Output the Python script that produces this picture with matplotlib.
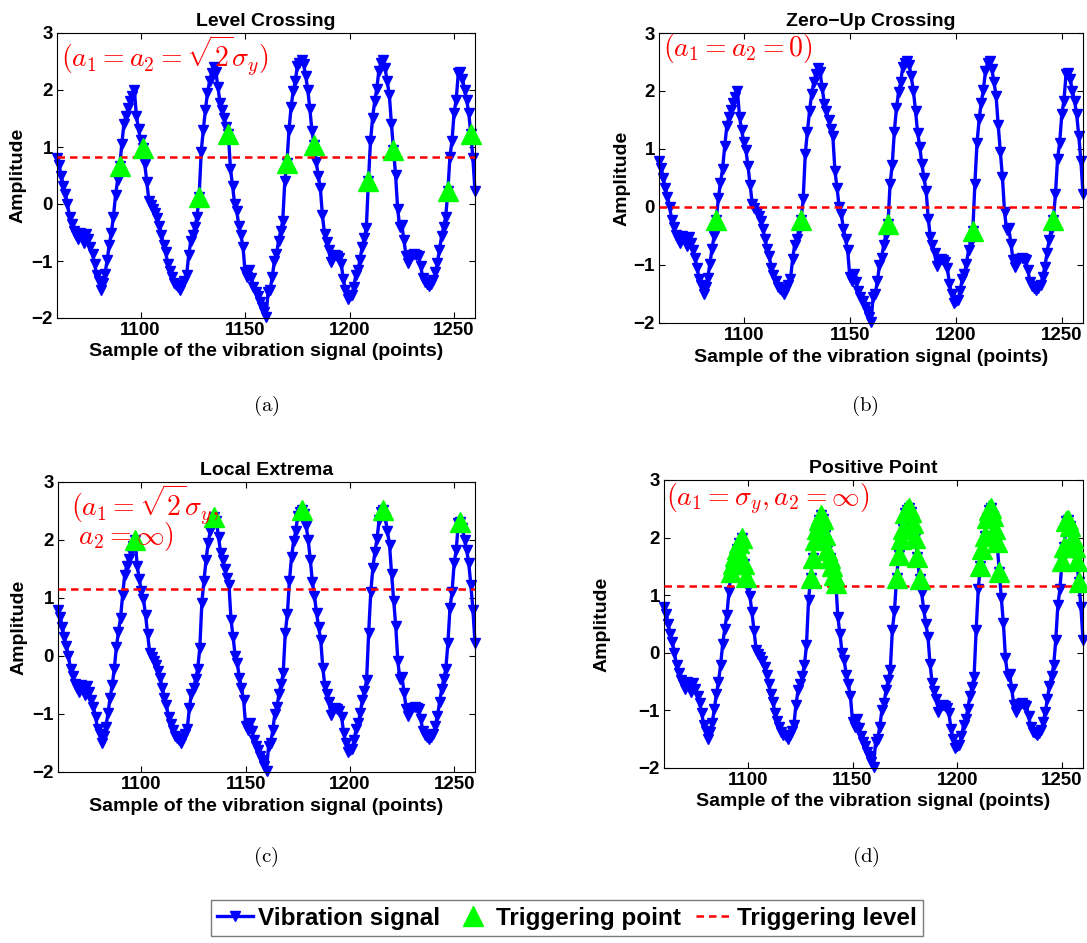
import matplotlib
matplotlib.use("Agg")
import matplotlib.pyplot as plt
from matplotlib.lines import Line2D
import numpy as np

plt.rcParams["font.family"] = ["Liberation Sans", "DejaVu Sans"]
plt.rcParams["mathtext.fontset"] = "cm"

# sample index of the first point, one value per sample afterwards
x_start = 1060
signal = [
    0.80, 0.68, 0.50, 0.32, 0.18, 0.00, -0.22, -0.35, -0.48, -0.55,
    -0.62, -0.50, -0.55, -0.68, -0.52, -0.62, -0.75, -0.88, -1.05, -1.25,
    -1.35, -1.50, -1.38, -1.22, -0.98, -0.72, -0.50, -0.22, 0.15, 0.42,
    0.66, 1.05, 1.40, 1.55, 1.68, 1.80, 1.90, 2.00, 1.55, 1.32,
    1.12, 0.98, 0.70, 0.38, 0.05, -0.02, -0.08, -0.15, -0.25, -0.38,
    -0.55, -0.72, -0.85, -1.05, -1.18, -1.28, -1.38, -1.42, -1.45, -1.50,
    -1.42, -1.35, -1.25, -0.90, -0.65, -0.55, -0.40, -0.22, 0.13, 0.92,
    1.30, 1.65, 1.95, 2.15, 2.30, 2.40, 2.32, 2.05, 1.78, 1.65,
    1.50, 1.35, 1.22, 0.62, 0.32, 0.00, -0.12, -0.38, -0.55, -0.75,
    -1.20, -1.28, -1.15, -1.30, -1.45, -1.55, -1.62, -1.72, -1.80, -1.90,
    -1.98, -1.55, -1.50, -1.28, -1.00, -0.88, -0.65, -0.48, -0.30, 0.40,
    0.72, 1.30, 1.70, 1.98, 2.15, 2.42, 2.48, 2.52, 2.45, 2.25,
    2.00, 1.66, 1.28, 1.04, 0.74, 0.50, 0.28, -0.20, -0.52, -0.66,
    -0.80, -1.02, -0.92, -0.90, -0.92, -0.95, -1.05, -1.32, -1.50, -1.66,
    -1.62, -1.60, -1.45, -1.25, -1.15, -0.98, -0.75, -0.60, -0.42, 0.40,
    1.10, 1.51, 1.80, 2.02, 2.34, 2.48, 2.52, 2.38, 2.15, 1.92,
    1.41, 0.95, 0.51, -0.09, -0.40, -0.37, -0.63, -0.91, -1.03, -0.95,
    -0.89, -0.88, -0.90, -0.92, -1.09, -1.29, -1.37, -1.40, -1.43, -1.40,
    -1.34, -1.20, -1.03, -0.80, -0.57, -0.40, -0.22, 0.22, 0.83, 1.11,
    1.60, 1.83, 2.29, 2.31, 2.20, 2.00, 1.83, 1.60, 1.23, 0.80, 0.22,
]

titles = ["Level Crossing", "Zero\u2212Up Crossing", "Local Extrema", "Positive Point"]
levels = [0.82, 0.0, 1.16, 1.16]
captions = ["(a)", "(b)", "(c)", "(d)"]
notes = [
    r"$(a_1 = a_2 = \sqrt{2}\sigma_y)$",
    r"$(a_1 = a_2 = 0)$",
    r"$(a_1 = \sqrt{2}\sigma_y,$" + "\n" + r" $a_2 = \infty)$",
    r"$(a_1 = \sigma_y, a_2 = \infty)$",
]
x_ticks = [1100, 1150, 1200, 1250]
y_ticks = [-2, -1, 0, 1, 2, 3]


def level_crossings(y, level, down=True):
    idx = []
    for i in range(len(y) - 1):
        if y[i] < level <= y[i + 1]:
            idx.append(i)
        elif down and y[i] > level >= y[i + 1]:
            idx.append(i)
    return np.array(idx, dtype=int)


def local_maxima(y, level):
    idx = []
    above = y > level
    i = 0
    while i < len(y):
        if above[i]:
            j = i
            while j < len(y) and above[j]:
                j += 1
            idx.append(i + int(np.argmax(y[i:j])))
            i = j
        else:
            i += 1
    return np.array(idx, dtype=int)


y = np.array(signal)
x = np.arange(x_start, x_start + len(y))
triggers = [
    level_crossings(y, levels[0]),
    level_crossings(y, levels[1], down=False),
    local_maxima(y, levels[2]),
    np.where(y > levels[3])[0],
]

W, H = 1087, 943
fig = plt.figure(figsize=(W / 100, H / 100), dpi=100)

# axes boxes in pixels: left, top, right, bottom
boxes = [(57, 33, 475, 318), (659, 33, 1083, 323), (58, 482, 475, 772), (664, 480, 1083, 768)]
ylab_x = [-0.072, -0.068, -0.072, -0.128]
note_pos = [(1062, 3.0), (1061.7, 3.02), (1066.4, 3.0), (1061, 2.97)]
cap_pos = [(266, 406), (865, 406), (266, 857), (866, 857)]

for k in range(4):
    l, t, r, b = boxes[k]
    ax = fig.add_axes([l / W, 1 - b / H, (r - l) / W, (b - t) / H])
    ax.plot(x, y, color="#0000ff", lw=2.4, marker="v", ms=6.5, clip_on=False, zorder=2)
    ax.axhline(levels[k], color="#ff0000", lw=1.8, ls=(0, (3, 2)), zorder=3)
    tr = triggers[k]
    ax.plot(x[tr], y[tr], ls="none", marker="^", ms=14, color="#00ff00", clip_on=False, zorder=4)
    ax.set_xlim(1060, 1260)
    ax.set_ylim(-2, 3)
    ax.set_xticks(x_ticks)
    ax.set_yticks(y_ticks)
    ax.tick_params(direction="in", length=4, top=True, right=True, labelsize=13.5, pad=3)
    for lab in ax.get_xticklabels() + ax.get_yticklabels():
        lab.set_fontweight("bold")
    ax.set_title(titles[k], fontsize=14, fontweight="bold", pad=5)
    ax.set_xlabel("Sample of the vibration signal (points)", fontsize=14, fontweight="bold")
    ax.xaxis.set_label_coords(0.5, -0.088)
    ax.set_ylabel("Amplitude", fontsize=14, fontweight="bold")
    ax.yaxis.set_label_coords(ylab_x[k], 0.5)
    tx, ty = note_pos[k]
    ax.text(tx, ty, notes[k], color="#ff0000", fontsize=20, ha="left", va="top",
            linespacing=0.72, zorder=5)
    cx, cy = cap_pos[k]
    fig.text(cx / W, 1 - cy / H, r"$\mathrm{" + captions[k] + "}$", fontsize=15, ha="center", va="center")

handles = [
    Line2D([], [], color="#0000ff", lw=2.4, marker="v", ms=6.5),
    Line2D([], [], ls="none", marker="^", ms=14, color="#00ff00"),
    Line2D([], [], color="#ff0000", lw=1.8, ls=(0, (3, 2))),
]
labels = ["Vibration signal", "Triggering point", "Triggering level"]
fig.legend(handles, labels, loc="center", bbox_to_anchor=(567 / W, 1 - 918 / H), ncol=3,
           prop={"weight": "bold", "size": 17.5}, frameon=True, fancybox=False, edgecolor="0.35",
           handlelength=1.5, handletextpad=0.2, columnspacing=0.6, borderpad=0.25)

fig.savefig("out.png", dpi=100)
